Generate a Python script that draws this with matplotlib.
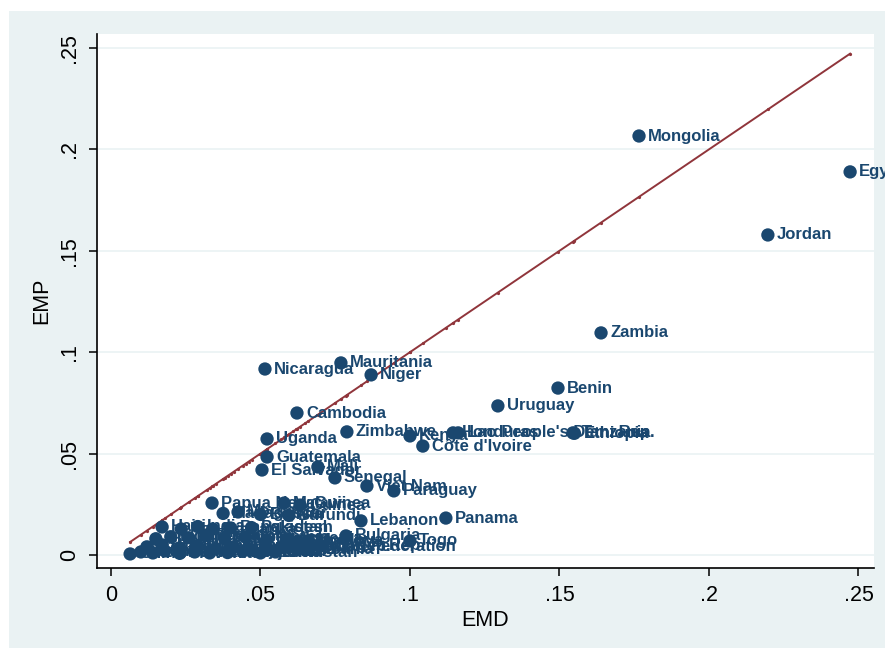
#!/usr/bin/env python3

import matplotlib
matplotlib.use('Agg')
import matplotlib.pyplot as plt
from matplotlib.patches import Rectangle
import numpy as np

plt.rcParams['font.family'] = ['Liberation Sans', 'DejaVu Sans']

#Country labels with EMD (x) and EMP (y) values
countries = [
	'Mongolia', 'Egypt', 'Jordan', 'Zambia', 'Benin', 'Uruguay',
	'Mauritania', 'Nicaragua', 'Niger', 'Cambodia', 'Uganda', 'Zimbabwe',
	"Côte d'Ivoire", 'Kenya', 'Honduras', "Lao People's Dem. Rep.", 'Tanzania', 'Ethiopia',
	'Guatemala', 'El Salvador', 'Mali', 'Senegal', 'Viet Nam', 'Paraguay',
	'Panama', 'Lebanon', 'Bulgaria', 'Togo', 'Kyrgyz Rep.',
	'Papua New Guinea', 'Malawi', 'Guinea',
	'Madagascar', 'Morocco', 'Bolivia', 'Burundi',
	'Haiti', 'Nepal', 'India', 'Sri Lanka', 'Bangladesh', 'Pakistan',
	'Ghana', 'Indonesia', 'Philippines', 'Ecuador', 'Peru', 'Colombia',
	'Tunisia', 'Armenia', 'Georgia', 'Moldova', 'Congo, Rep.',
	'Thailand', 'Brazil', 'Mexico', 'Romania', 'Turkey', 'Poland',
	'Hungary', 'Ukraine', 'Belarus', 'Russian Federation', 'Albania',
	'China', 'Estonia', 'Latvia', 'Lithuania', 'Slovenia', 'Croatia',
	'Azerbaijan', 'Macedonia', 'Tajikistan', 'Uzbekistan', 'Chile',
]
emd = [
	0.1766, 0.2472, 0.2197, 0.1639, 0.1495, 0.1294,
	0.0769, 0.0515, 0.0870, 0.0622, 0.0522, 0.0789,
	0.1043, 0.1000, 0.1144, 0.1161, 0.1545, 0.1550,
	0.0522, 0.0505, 0.0692, 0.0749, 0.0856, 0.0946,
	0.1120, 0.0836, 0.0786, 0.1000, 0.0700,
	0.0338, 0.0579, 0.0632,
	0.0375, 0.0425, 0.0500, 0.0595,
	0.0171, 0.0235, 0.0290, 0.0340, 0.0400, 0.0470,
	0.0150, 0.0200, 0.0260, 0.0320, 0.0380, 0.0450,
	0.0520, 0.0590, 0.0620, 0.0660, 0.0580,
	0.0120, 0.0170, 0.0230, 0.0290, 0.0350, 0.0410,
	0.0460, 0.0520, 0.0570, 0.0610, 0.0650,
	0.0064, 0.0100, 0.0140, 0.0180, 0.0230, 0.0280,
	0.0330, 0.0390, 0.0440, 0.0500, 0.0550,
]
emp = [
	0.2066, 0.1889, 0.1578, 0.1095, 0.0823, 0.0735,
	0.0947, 0.0917, 0.0888, 0.0700, 0.0572, 0.0607,
	0.0537, 0.0587, 0.0602, 0.0602, 0.0602, 0.0600,
	0.0483, 0.0419, 0.0434, 0.0380, 0.0340, 0.0316,
	0.0182, 0.0168, 0.0094, 0.0069, 0.0045,
	0.0256, 0.0256, 0.0246,
	0.0205, 0.0212, 0.0200, 0.0195,
	0.0138, 0.0128, 0.0140, 0.0128, 0.0133, 0.0135,
	0.0080, 0.0090, 0.0085, 0.0095, 0.0080, 0.0088,
	0.0075, 0.0080, 0.0065, 0.0070, 0.0040,
	0.0040, 0.0050, 0.0035, 0.0045, 0.0030, 0.0040,
	0.0030, 0.0025, 0.0035, 0.0040, 0.0025,
	0.0005, 0.0015, 0.0010, 0.0020, 0.0008, 0.0015,
	0.0010, 0.0012, 0.0018, 0.0010, 0.0015,
]

xticks = [0, 0.05, 0.1, 0.15, 0.2, 0.25]
xticklabels = ['0', '.05', '.1', '.15', '.2', '.25']
yticks = [0, 0.05, 0.1, 0.15, 0.2, 0.25]
yticklabels = ['0', '.05', '.1', '.15', '.2', '.25']

navy = '#1a476f'
maroon = '#90353b'
bg = '#eaf2f3'

fig = plt.figure(figsize=(8.85, 6.5), dpi=100)
fig.patch.set_facecolor('white')
fig.patches.append(Rectangle((0.0102, 0.003), 1.0, 0.980, transform=fig.transFigure,
	facecolor=bg, edgecolor='none', zorder=-10))

ax = fig.add_axes([0.1096, 0.1262, 0.8780, 0.8215])
ax.set_facecolor('white')

#45 degree line through the EMD values
xs = np.sort(np.array(emd))
ax.plot(xs, xs, color=maroon, lw=1.4, marker='o', ms=1.3, zorder=2)

#Scatter with country labels
ax.scatter(emd, emp, s=92, color=navy, edgecolors='none', zorder=3)
for name, x, y in zip(countries, emd, emp):
	ax.annotate(name, (x, y), xytext=(6.5, 0), textcoords='offset points',
		va='center', ha='left', fontsize=12, fontweight='bold', color=navy,
		annotation_clip=False, clip_on=False, zorder=4)

ax.set_xlim(-0.00468, 0.2552)
ax.set_ylim(-0.00641, 0.2569)
ax.set_xticks(xticks)
ax.set_xticklabels(xticklabels)
ax.set_yticks(yticks)
ax.set_yticklabels(yticklabels, rotation=90, va='center')
ax.tick_params(axis='both', direction='out', length=6, width=1.1, labelsize=15.5, pad=6)

ax.yaxis.grid(True, color=bg, lw=1.2, zorder=0)
ax.xaxis.grid(False)
ax.set_axisbelow(True)

for side in ['top', 'right']:
	ax.spines[side].set_visible(False)
for side in ['left', 'bottom']:
	ax.spines[side].set_linewidth(1.2)

ax.set_xlabel('EMD', fontsize=15.5, labelpad=3)
ax.set_ylabel('EMP', fontsize=15.5, labelpad=5)

plt.savefig('out.png', dpi=100)
